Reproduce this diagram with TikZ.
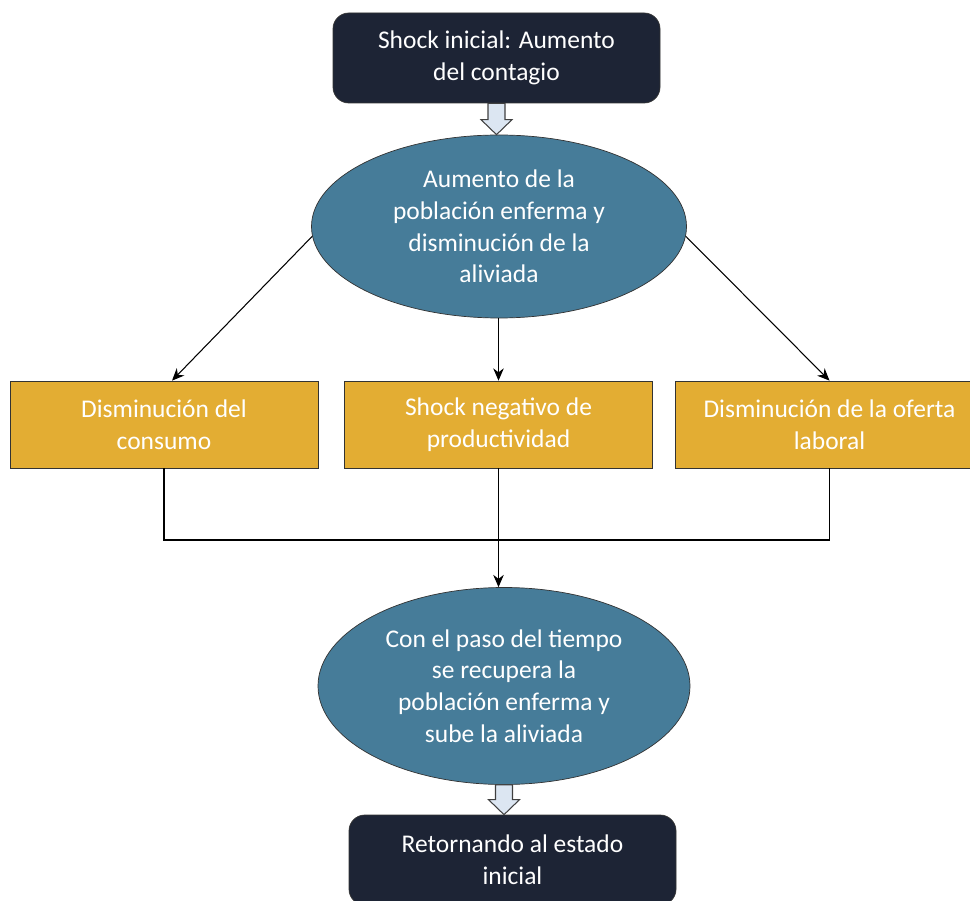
\documentclass[tikz,border=0pt]{standalone}
\usepackage{fontspec}
\setmainfont{Carlito}
\usepackage{xcolor}
\usepackage{tikz}
\usetikzlibrary{shapes, arrows.meta, positioning}
\definecolor{navy}{HTML}{1D2435}
\definecolor{steel}{HTML}{467C99}
\definecolor{gold}{HTML}{E3AD33}
\definecolor{pale}{HTML}{DCE6F2}

\begin{document}
\begin{tikzpicture}[
  >={Stealth[length=7pt, width=6pt]},
  txt/.style={text=white, align=center, font=\fontsize{14.5}{18}\selectfont},
  darkbox/.style={rectangle, draw=black!80, rounded corners=9pt, minimum width=6.54cm, minimum height=1.8cm, fill=navy, txt},
  oval/.style={ellipse, draw=black!80, fill=steel, minimum width=#1, inner sep=0pt, txt},
  module/.style={rectangle, draw=black!80, fill=gold, minimum width=6.16cm, minimum height=1.74cm, txt},
  hollow/.style={draw=black!75, fill=pale, semithick, line join=miter},
  arrow/.style={->, semithick}
]
  \useasboundingbox (0,0) rectangle (19.4,-18.02);
  \clip (0,0) rectangle (19.4,-18.02);

  \node[darkbox] (s0) at (9.93,-1.16) {Shock inicial: Aumento\\del contagio};
  \node[oval=7.5cm, minimum height=3.66cm] (e1) at (9.98,-4.53) {Aumento de la\\población enferma y\\disminución de la\\aliviada};

  \node[module] (m1) at (3.28,-8.49) {Disminución del\\consumo};
  \node[module] (m2) at (9.97,-8.49) {Shock negativo de\\productividad};
  \node[module] (m3) at (16.59,-8.49) {Disminución de la oferta\\laboral};

  \coordinate (jn) at (9.97,-10.8);
  \node[oval=7.44cm, minimum height=3.94cm] (e2) at (10.08,-13.72) {Con el paso del tiempo\\se recupera la\\población enferma y\\sube la aliviada};
  \node[darkbox] (s1) at (10.25,-17.2) {Retornando al estado\\inicial};

  \coordinate (t1) at (s0.south |- e1.north);
  \draw[hollow] ([xshift=-0.17cm]s0.south) -- ([xshift=-0.17cm,yshift=0.3cm]t1) -- ([xshift=-0.31cm,yshift=0.3cm]t1) -- (t1) -- ([xshift=0.31cm,yshift=0.3cm]t1) -- ([xshift=0.17cm,yshift=0.3cm]t1) -- ([xshift=0.17cm]s0.south) -- cycle;

  \coordinate (t2) at (e2.south |- s1.north);
  \draw[hollow] ([xshift=-0.17cm]e2.south) -- ([xshift=-0.17cm,yshift=0.3cm]t2) -- ([xshift=-0.31cm,yshift=0.3cm]t2) -- (t2) -- ([xshift=0.31cm,yshift=0.3cm]t2) -- ([xshift=0.17cm,yshift=0.3cm]t2) -- ([xshift=0.17cm]e2.south) -- cycle;

  \draw[arrow] (e1.183) -- ([xshift=0.16cm]m1.north);
  \draw[arrow] (e1.south -| m2.north) -- (m2.north);
  \draw[arrow] (e1.-3) -- (m3.north);

  \draw[semithick] (m1.south) -- (m1.south |- jn) -- (m3.south |- jn) -- (m3.south);
  \draw[semithick] (m2.south) -- (jn);
  \draw[arrow] (jn) -- (jn |- e2.north);
\end{tikzpicture}
\end{document}
